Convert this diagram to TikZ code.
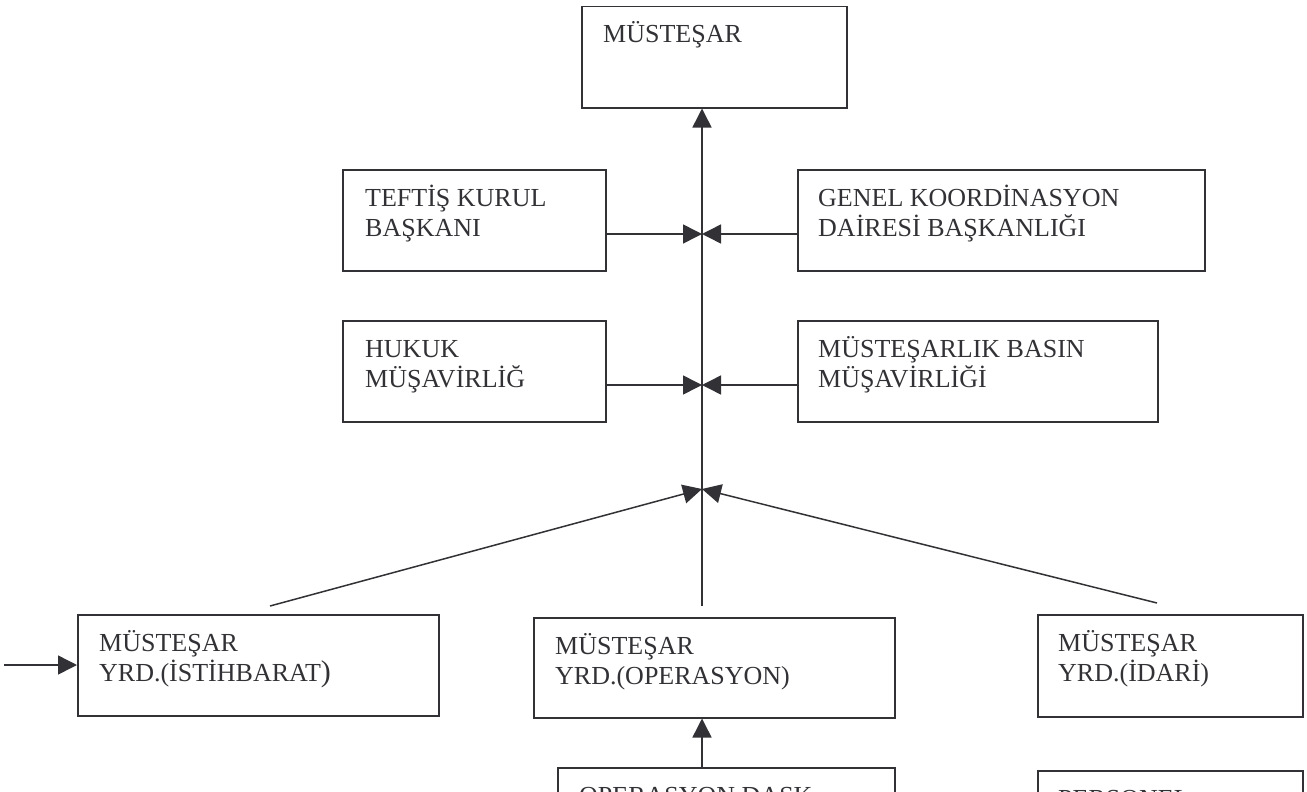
\documentclass[tikz,border=0pt]{standalone}
\usepackage{fontspec}
\setmainfont{Liberation Serif}
\usetikzlibrary{arrows.meta}
\definecolor{ink}{RGB}{50,50,54}
% two stacked lines of text whose baseline is the first line's
\newcommand\boxlines[2]{\vtop{\hbox{#1}\hbox{#2}}}
\begin{document}
\begin{tikzpicture}[x=1pt,y=-1pt,
  box/.style={draw=ink, line width=1.5pt, anchor=north west, inner sep=0pt},
  txt/.style={anchor=base west, inner sep=0pt, text=ink, font=\fontsize{26}{30.5}\selectfont},
  link/.style={draw=ink, line width=1.5pt, -{Triangle[length=19pt,width=19pt]}}]
\useasboundingbox (0,0) rectangle (1307,792);
\clip (0,0) rectangle (1307,792);

% boxes
\node[box, minimum width=265pt, minimum height=101pt] (must)     at (581,6)   {};
\node[box, minimum width=263pt, minimum height=101pt] (teftis)   at (342,169) {};
\node[box, minimum width=407pt, minimum height=101pt] (genel)    at (797,169) {};
\node[box, minimum width=263pt, minimum height=101pt] (hukuk)    at (342,320) {};
\node[box, minimum width=360pt, minimum height=101pt] (basin)    at (797,320) {};
\node[box, minimum width=361pt, minimum height=101pt] (istih)    at (77,614)  {};
\node[box, minimum width=361pt, minimum height=100pt] (oper)     at (533,617) {};
\node[box, minimum width=265pt, minimum height=102pt] (idari)    at (1037,614){};
\node[box, minimum width=337pt, minimum height=80pt]  (opdask)   at (557,767) {};
\node[box, minimum width=265pt, minimum height=80pt]  (personel) at (1037,770){};

% texts
\node[txt] (tmust)     at ([shift={(22,37)}]must.north west)     {MÜSTEŞAR};
\node[txt] (tteftis)   at ([shift={(23,37)}]teftis.north west)   {\boxlines{TEFTİŞ KURUL}{BAŞKANI}};
\node[txt] (tgenel)    at ([shift={(21,37)}]genel.north west)    {\boxlines{GENEL KOORDİNASYON}{DAİRESİ BAŞKANLIĞI}};
\node[txt] (thukuk)    at ([shift={(23,37)}]hukuk.north west)    {\boxlines{HUKUK}{MÜŞAVİRLİĞ}};
\node[txt] (tbasin)    at ([shift={(21,37)}]basin.north west)    {\boxlines{MÜSTEŞARLIK BASIN}{MÜŞAVİRLİĞİ}};
\node[txt] (tistih)    at ([shift={(22,37)}]istih.north west)    {\boxlines{MÜSTEŞAR}{YRD.(İSTİHBARAT{\fontsize{30}{30}\selectfont )}}};
\node[txt] (toper)     at ([shift={(22,37)}]oper.north west)     {\boxlines{MÜSTEŞAR}{YRD.(OPERASYON)}};
\node[txt] (tidari)    at ([shift={(21,37)}]idari.north west)    {\boxlines{MÜSTEŞAR}{YRD.(İDARİ)}};
\node[txt] (topdask)   at ([shift={(22,37)}]opdask.north west)   {OPERASYON DASK};
\node[txt] (tpersonel) at ([shift={(21,37)}]personel.north west) {PERSONEL};

% junction points on the main line and free line ends
\coordinate (j1) at (702,234);
\coordinate (j2) at (702,385);
\coordinate (j3) at (702,489);
\coordinate (vbot) at (702,606);
\coordinate (lstart) at (270,606);
\coordinate (rstart) at (1157,603);
\coordinate (ext) at (4,665);

% connectors
\draw[link] (vbot) -- (vbot |- must.south);
\draw[link] (teftis.east |- j1) -- (j1);
\draw[link] (genel.west |- j1) -- (j1);
\draw[link] (hukuk.east |- j2) -- (j2);
\draw[link] (basin.west |- j2) -- (j2);
\draw[link] (lstart) -- (j3);
\draw[link] (rstart) -- (j3);
\draw[link] (ext) -- (istih.west |- ext);
\draw[link] (opdask.north -| vbot) -- (oper.south -| vbot);
\end{tikzpicture}
\end{document}
